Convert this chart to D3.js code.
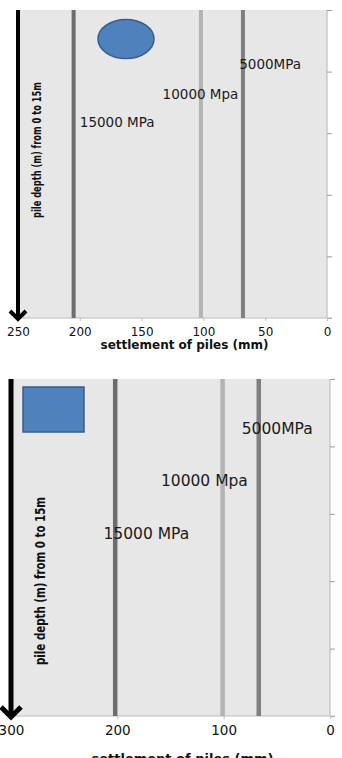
<!DOCTYPE html>
<html>
<head>
<meta charset="utf-8">
<script src="https://cdn.jsdelivr.net/npm/d3@7"></script>
<style>
  body { margin: 0; background: #fff; }
  svg { display: block; }
</style>
</head>
<body>
<svg id="chart" width="342" height="758"></svg>
<script>
// series: stiffness of the soil, and constant settlement along pile depth
const stiffness = ["15000 MPa", "10000 Mpa", "5000MPa"];
const settlementCircle = [205, 102, 68];   // upper chart (circular pile)
const settlementSquare = [202, 101, 67];   // lower chart (square pile)
const depthRange = [0, 15];
const depthTicks = [0, 3, 6, 9, 12, 15];
const xTicksCircle = [250, 200, 150, 100, 50, 0];
const xTicksSquare = [300, 200, 100, 0];

const lineColors = ["#6d6d6d", "#b3b3b3", "#7f7f7f"];
const svg = d3.select("#chart");

function SettlementChart(g, {
  values,
  xMax,
  xTicks,
  left, right, top, bottom,
  lineWidth = 4,
  labelSize = 14,
  tickSize = 12,
  titleSize = 12,
  titleY,
  yLabelX, yLabelY, yLabelLen, yLabelSize,
  labelPos,           // [settlement, depth] anchor of each label, data units
  arrowWidth = 4,
  arrowHead = 8,
  shape
} = {}) {
  const x = d3.scaleLinear([xMax, 0], [left, right]);
  const y = d3.scaleLinear(depthRange, [top, bottom]);

  // plot area
  g.append("rect")
    .attr("x", left).attr("y", top)
    .attr("width", right - left).attr("height", bottom - top)
    .attr("fill", "#e7e7e7");

  // right axis (depth ticks)
  g.append("g")
    .attr("transform", `translate(${right},0)`)
    .call(d3.axisRight(y).tickValues(depthTicks).tickSize(5).tickFormat(""))
    .call(a => a.select(".domain").attr("stroke", "#b5b5b5").attr("d", `M0,${top}V${bottom}`))
    .call(a => a.selectAll(".tick line").attr("stroke", "#9a9a9a"));

  // bottom axis
  g.append("g")
    .attr("transform", `translate(0,${bottom})`)
    .call(d3.axisBottom(x).tickValues(xTicks).tickSize(3).tickPadding(6))
    .call(a => a.select(".domain").attr("stroke", "#bdbdbd").attr("d", `M${left},0H${right + 5}`))
    .call(a => a.selectAll(".tick line").attr("stroke", "#bdbdbd"))
    .call(a => a.selectAll(".tick text")
      .attr("font-family", "DejaVu Sans")
      .attr("font-size", tickSize)
      .attr("fill", "#111"));

  // x title
  g.append("text")
    .attr("x", (left + right) / 2 + 12)
    .attr("y", titleY)
    .attr("text-anchor", "middle")
    .attr("font-family", "DejaVu Sans")
    .attr("font-weight", "bold")
    .attr("font-size", titleSize)
    .attr("fill", "#111")
    .text("settlement of piles (mm)");

  // settlement lines
  const line = d3.line().x(d => x(d[0])).y(d => y(d[1]));
  g.append("g")
    .selectAll("path")
    .data(values)
    .join("path")
    .attr("d", v => line(depthRange.map(dep => [v, dep])))
    .attr("stroke", (v, i) => lineColors[i])
    .attr("stroke-width", lineWidth)
    .attr("fill", "none");

  // labels
  g.append("g")
    .selectAll("text")
    .data(stiffness)
    .join("text")
    .attr("x", (d, i) => x(labelPos[i][0]))
    .attr("y", (d, i) => y(labelPos[i][1]))
    .attr("dy", "0.35em")
    .attr("font-family", "DejaVu Sans")
    .attr("font-size", labelSize)
    .attr("fill", "#1a1a1a")
    .text(d => d);

  // depth arrow along the left edge
  g.append("line")
    .attr("x1", left).attr("x2", left)
    .attr("y1", top).attr("y2", bottom)
    .attr("stroke", "#000")
    .attr("stroke-width", arrowWidth);
  const ah = arrowHead;
  g.append("path")
    .attr("d", `M${left - ah},${bottom - ah + 1}L${left},${bottom + 1}L${left + ah},${bottom - ah + 1}`)
    .attr("stroke", "#000")
    .attr("stroke-width", arrowWidth)
    .attr("fill", "none");

  // y label
  g.append("text")
    .attr("transform", `translate(${yLabelX},${yLabelY}) rotate(-90)`)
    .attr("text-anchor", "middle")
    .attr("dy", "0.35em")
    .attr("font-family", "DejaVu Sans Condensed, DejaVu Sans")
    .attr("font-weight", "bold")
    .attr("font-size", yLabelSize)
    .attr("textLength", yLabelLen)
    .attr("lengthAdjust", "spacingAndGlyphs")
    .attr("fill", "#111")
    .text("pile depth (m) from 0 to 15m");

  // pile section symbol
  if (shape === "circle") {
    g.append("ellipse")
      .attr("cx", 126).attr("cy", 39)
      .attr("rx", 28).attr("ry", 19.5)
      .attr("fill", "#4f81bd")
      .attr("stroke", "#385d8a")
      .attr("stroke-width", 1.5);
  } else {
    g.append("rect")
      .attr("x", 23).attr("y", 387)
      .attr("width", 61).attr("height", 45)
      .attr("fill", "#4f81bd")
      .attr("stroke", "#385d8a")
      .attr("stroke-width", 1.5);
  }
}

SettlementChart(svg.append("g"), {
  values: settlementCircle,
  xMax: 250,
  xTicks: xTicksCircle,
  left: 18, right: 327, top: 10, bottom: 318,
  labelSize: 13.5,
  tickSize: 12,
  titleSize: 12,
  titleY: 349,
  yLabelX: 37, yLabelY: 150, yLabelLen: 136, yLabelSize: 12,
  labelPos: [[200, 5.45], [133, 4.1], [71, 2.65]],
  arrowWidth: 4,
  arrowHead: 8,
  shape: "circle"
});

SettlementChart(svg.append("g"), {
  values: settlementSquare,
  xMax: 300,
  xTicks: xTicksSquare,
  left: 11, right: 330, top: 379, bottom: 716,
  lineWidth: 4.5,
  labelSize: 15.5,
  tickSize: 13.5,
  titleSize: 13,
  titleY: 763,
  yLabelX: 40, yLabelY: 581, yLabelLen: 168, yLabelSize: 14,
  labelPos: [[213, 6.9], [159, 4.5], [83, 2.2]],
  arrowWidth: 5,
  arrowHead: 10,
  shape: "square"
});
</script>
</body>
</html>
